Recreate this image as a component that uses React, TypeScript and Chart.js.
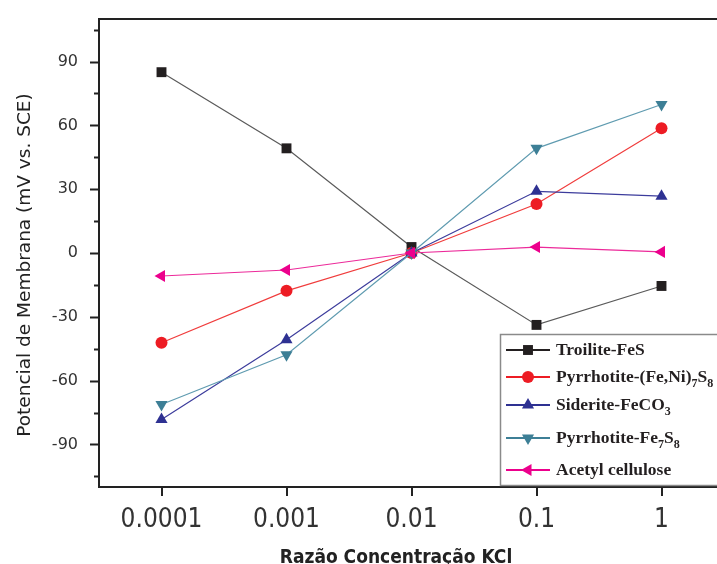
import React, { useEffect, useRef } from "react";
import { Chart, registerables } from "chart.js";

Chart.register(...registerables);

const categories = ["0.0001", "0.001", "0.01", "0.1", "1"];
const troilite = [85, 49.2, 2.8, -33.8, -15.5];
const pyrrhotiteFeNi = [-42.2, -17.8, 0, 23, 58.6];
const siderite = [-78.3, -40.8, 0, 29, 26.7];
const pyrrhotiteFe7S8 = [-71.2, -47.8, 0, 49.2, 69.8];
const acetyl = [-10.8, -8, 0, 2.8, 0.5];
const yTicks = [-90, -60, -30, 0, 30, 60, 90];
const yMinorTicks = [-105, -75, -45, -15, 15, 45, 75, 105];
const seriesLabels = [
  "Troilite-FeS",
  "Pyrrhotite-(Fe,Ni)_7S_8",
  "Siderite-FeCO_3",
  "Pyrrhotite-Fe_7S_8",
  "Acetyl cellulose",
];
const yTitle = "Potencial de Membrana (mV vs. SCE)";
const xTitle = "Razão Concentração KCl";

const lineColors = ["#5a5a5a", "#f03c3c", "#3c3c9c", "#5f9bb0", "#ec2a9a"];
const markerColors = ["#231f20", "#ed1c24", "#2e3192", "#3d7f96", "#ec008c"];
const markerStyles = ["rect", "circle", "triangle", "triangle", "triangle"];
const markerRot = [0, 0, 0, 180, 270];
const markerRad = [7, 6, 7, 7, 7];

function drawMarker(ctx: CanvasRenderingContext2D, style: string, x: number, y: number, r: number, rot: number, color: string) {
  ctx.save();
  ctx.fillStyle = color;
  ctx.beginPath();
  if (style === "rect") {
    const s = Math.SQRT1_2 * r;
    ctx.rect(x - s, y - s, 2 * s, 2 * s);
  } else if (style === "circle") {
    ctx.arc(x, y, r, 0, Math.PI * 2);
  } else {
    let rad = (rot * Math.PI) / 180;
    ctx.moveTo(x + Math.sin(rad) * r, y - Math.cos(rad) * r);
    rad += (2 * Math.PI) / 3;
    ctx.lineTo(x + Math.sin(rad) * r, y - Math.cos(rad) * r);
    rad += (2 * Math.PI) / 3;
    ctx.lineTo(x + Math.sin(rad) * r, y - Math.cos(rad) * r);
    ctx.closePath();
  }
  ctx.fill();
  ctx.restore();
}

const decorPlugin = {
  id: "decor",
  afterDraw(chart: any) {
    const ctx: CanvasRenderingContext2D = chart.ctx;
    const ca = chart.chartArea;
    const ys = chart.scales.y;
    const xs = chart.scales.x;
    ctx.save();
    // frame
    ctx.strokeStyle = "#222";
    ctx.lineWidth = 2;
    ctx.strokeRect(ca.left, ca.top, ca.right - ca.left, ca.bottom - ca.top);
    // y ticks
    ctx.lineWidth = 2;
    yTicks.forEach((v) => {
      const p = Math.round(ys.getPixelForValue(v)) + 0.5;
      ctx.beginPath();
      ctx.moveTo(ca.left - 9, p);
      ctx.lineTo(ca.left, p);
      ctx.stroke();
    });
    yMinorTicks.forEach((v) => {
      const p = Math.round(ys.getPixelForValue(v)) + 0.5;
      ctx.beginPath();
      ctx.moveTo(ca.left - 5, p);
      ctx.lineTo(ca.left, p);
      ctx.stroke();
    });
    categories.forEach((_, i) => {
      const p = Math.round(xs.getPixelForValue(i));
      ctx.beginPath();
      ctx.moveTo(p, ca.bottom);
      ctx.lineTo(p, ca.bottom + 9);
      ctx.stroke();
    });
    // titles
    ctx.fillStyle = "#222";
    ctx.textAlign = "center";
    ctx.textBaseline = "middle";
    ctx.font = "18.5px 'DejaVu Sans', sans-serif";
    ctx.save();
    ctx.translate(25, 265);
    ctx.rotate(-Math.PI / 2);
    ctx.fillText(yTitle, 0, 0);
    ctx.restore();
    ctx.font = "bold 19px 'DejaVu Sans Condensed', sans-serif";
    ctx.textBaseline = "alphabetic";
    ctx.fillText(xTitle, 396, 563);
    // legend
    const lx = 500, ly = 334;
    ctx.fillStyle = "#fff";
    ctx.fillRect(lx, ly, 260, 151);
    ctx.strokeStyle = "#8a8a8a";
    ctx.lineWidth = 1.5;
    ctx.strokeRect(lx + 0.5, ly + 0.5, 260, 151);
    const rowsY = [350, 377, 405, 438, 470];
    seriesLabels.forEach((lab, i) => {
      const y = rowsY[i];
      ctx.strokeStyle = markerColors[i];
      ctx.lineWidth = 2;
      ctx.beginPath();
      ctx.moveTo(506, y);
      ctx.lineTo(550, y);
      ctx.stroke();
      drawMarker(ctx, markerStyles[i], 528, y, markerRad[i], markerRot[i], markerColors[i]);
      const parts = lab.split(/_(\d)/);
      let x = 556;
      ctx.fillStyle = "#231f20";
      ctx.textAlign = "left";
      ctx.textBaseline = "middle";
      parts.forEach((t, k) => {
        if (!t) return;
        const sub = k % 2 === 1;
        ctx.font = sub ? "bold 12px 'Liberation Serif', serif" : "bold 17.5px 'Liberation Serif', serif";
        ctx.fillText(t, x, sub ? y + 7 : y);
        x += ctx.measureText(t).width;
      });
    });
    ctx.restore();
  },
};

export default function App() {
  const ref = useRef<HTMLCanvasElement | null>(null);
  useEffect(() => {
    if (!ref.current) return;
    const dataSeries = [troilite, pyrrhotiteFeNi, siderite, pyrrhotiteFe7S8, acetyl];
    const chart = new Chart(ref.current, {
      type: "line",
      data: {
        labels: categories,
        datasets: dataSeries.map((d, i) => ({
          label: seriesLabels[i].replace(/_/g, ""),
          data: d,
          borderColor: lineColors[i],
          borderWidth: 1.2,
          pointStyle: markerStyles[i] as any,
          pointRotation: markerRot[i],
          pointRadius: markerRad[i],
          pointHoverRadius: markerRad[i],
          pointBackgroundColor: markerColors[i],
          pointBorderColor: markerColors[i],
          pointBorderWidth: 0,
          tension: 0,
          fill: false,
          order: 5 - i,
          clip: false,
        })),
      },
      options: {
        responsive: false,
        animation: false,
        layout: { autoPadding: false, padding: { left: 0, top: 19, right: 0, bottom: 0 } },
        plugins: { legend: { display: false }, tooltip: { enabled: false } },
        scales: {
          x: {
            type: "category",
            offset: true,
            grid: { display: false, drawTicks: false },
            border: { display: false },
            ticks: {
              color: "#333",
              padding: 18,
              font: { family: "'Liberation Sans Narrow', 'DejaVu Sans Condensed', sans-serif", size: 26 },
              maxRotation: 0,
            },
            afterFit: (s: any) => {
              s.height = 77;
              s.paddingLeft = 0;
              s.paddingRight = 0;
            },
          },
          y: {
            min: -110,
            max: 110,
            grid: { display: false, drawTicks: false },
            border: { display: false },
            ticks: {
              color: "#333",
              padding: 21,
              font: { family: "'DejaVu Sans', sans-serif", size: 16 },
            },
            afterBuildTicks: (s: any) => {
              s.ticks = yTicks.map((v) => ({ value: v }));
            },
            afterFit: (s: any) => {
              s.width = 99;
              s.paddingTop = 0;
              s.paddingBottom = 0;
            },
          },
        },
      },
      plugins: [decorPlugin],
    });
    return () => chart.destroy();
  }, []);
  return (
    <div style={{ position: "absolute", left: 0, top: 0, width: 717, height: 564, overflow: "hidden", background: "#fff" }}>
      <canvas ref={ref} width={724} height={564} style={{ width: 724, height: 564, display: "block" }} />
    </div>
  );
}
